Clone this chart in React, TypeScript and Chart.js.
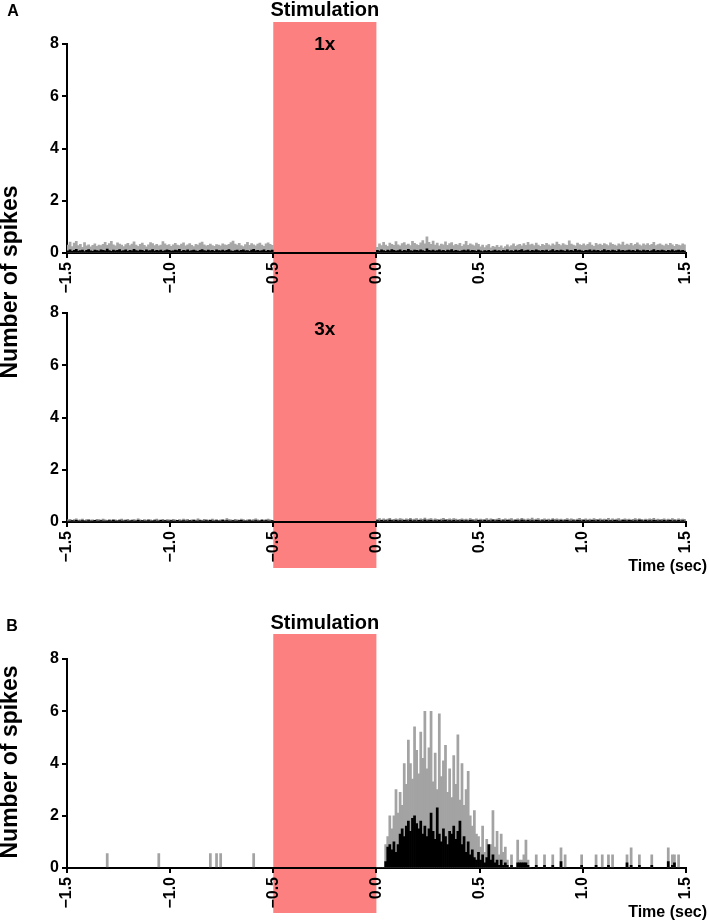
import React, { useEffect, useRef } from 'react';
import { Chart, registerables } from 'chart.js';

Chart.register(...registerables);
Chart.defaults.font.family = '"Liberation Sans", Arial, sans-serif';

// ---------- data ----------
const BIN = 0.01; // histogram bin width (s)
const A_PRE_START = -1.5;
const A_POST_START = 0;
const B_POST_START = 0;
const X_MIN = -1.5;
const X_MAX = 1.5;
const X_STEP = 0.5;
const Y_MIN = 0;
const Y_MAX = 8;
const Y_STEP = 2;
const STIM_FROM = -0.5;
const STIM_TO = 0;

// Panel A, 1x : grey / black histogram heights
const a1PreGray = [
  0.30,0.42,0.25,0.38,0.45,0.28,0.33,0.22,0.40,0.27,
  0.31,0.24,0.29,0.35,0.26,0.30,0.28,0.33,0.41,0.29,
  0.36,0.45,0.31,0.27,0.39,0.34,0.30,0.25,0.32,0.37,
  0.28,0.34,0.43,0.30,0.26,0.33,0.38,0.29,0.24,0.31,
  0.40,0.36,0.28,0.33,0.27,0.30,0.44,0.35,0.29,0.32,
  0.26,0.31,0.37,0.30,0.28,0.34,0.39,0.27,0.31,0.36,
  0.29,0.25,0.33,0.30,0.38,0.42,0.31,0.27,0.29,0.34,
  0.28,0.26,0.32,0.30,0.27,0.35,0.31,0.29,0.33,0.40,
  0.46,0.34,0.30,0.37,0.28,0.25,0.32,0.41,0.29,0.36,
  0.31,0.27,0.34,0.38,0.30,0.26,0.35,0.39,0.33,0.29,
];
const a1PostGray = [
  0.22,0.35,0.28,0.41,0.30,0.26,0.38,0.33,0.29,0.44,
  0.31,0.27,0.36,0.40,0.30,0.34,0.28,0.45,0.37,0.32,
  0.29,0.39,0.48,0.35,0.62,0.41,0.33,0.46,0.30,0.38,
  0.27,0.34,0.31,0.43,0.29,0.36,0.40,0.28,0.33,0.30,
  0.37,0.26,0.32,0.45,0.29,0.35,0.31,0.27,0.38,0.33,
  0.24,0.30,0.21,0.28,0.33,0.20,0.26,0.23,0.29,0.22,
  0.27,0.19,0.25,0.31,0.24,0.28,0.35,0.26,0.30,0.33,
  0.27,0.36,0.29,0.41,0.31,0.34,0.28,0.38,0.30,0.26,
  0.33,0.29,0.37,0.31,0.27,0.35,0.30,0.42,0.33,0.28,
  0.36,0.31,0.29,0.47,0.34,0.30,0.27,0.38,0.32,0.29,
  0.35,0.28,0.33,0.40,0.30,0.26,0.37,0.31,0.34,0.29,
  0.36,0.32,0.28,0.39,0.33,0.30,0.27,0.35,0.31,0.42,
  0.29,0.34,0.30,0.37,0.28,0.33,0.39,0.31,0.27,0.35,
  0.30,0.36,0.29,0.33,0.41,0.28,0.32,0.35,0.30,0.27,
  0.34,0.29,0.37,0.31,0.26,0.33,0.30,0.28,0.35,0.31,
];
const a1PreBlack = [
  0.08,0.12,0.06,0.10,0.14,0.07,0.09,0.11,0.05,0.10,
  0.13,0.08,0.06,0.11,0.09,0.07,0.12,0.10,0.08,0.15,
  0.09,0.06,0.11,0.08,0.10,0.13,0.07,0.09,0.12,0.06,
  0.10,0.08,0.14,0.09,0.07,0.11,0.10,0.06,0.12,0.08,
  0.09,0.13,0.07,0.10,0.08,0.11,0.06,0.09,0.12,0.10,
  0.07,0.08,0.11,0.09,0.14,0.06,0.10,0.08,0.12,0.07,
  0.09,0.11,0.08,0.06,0.10,0.13,0.09,0.07,0.11,0.08,
  0.10,0.06,0.12,0.09,0.08,0.11,0.07,0.10,0.13,0.08,
  0.06,0.09,0.11,0.07,0.10,0.12,0.08,0.09,0.06,0.11,
  0.14,0.08,0.10,0.07,0.09,0.12,0.06,0.10,0.08,0.11,
];
const a1PostBlack = [
  0.10,0.07,0.12,0.09,0.06,0.11,0.08,0.13,0.10,0.07,
  0.09,0.12,0.06,0.10,0.08,0.14,0.09,0.07,0.11,0.10,
  0.08,0.12,0.09,0.06,0.16,0.10,0.08,0.11,0.07,0.09,
  0.12,0.08,0.10,0.06,0.11,0.09,0.13,0.07,0.10,0.08,
  0.06,0.09,0.11,0.08,0.12,0.07,0.10,0.09,0.06,0.11,
  0.08,0.05,0.09,0.07,0.10,0.06,0.08,0.11,0.07,0.09,
  0.06,0.10,0.08,0.12,0.07,0.09,0.06,0.11,0.08,0.10,
  0.13,0.07,0.09,0.11,0.06,0.10,0.08,0.12,0.09,0.07,
  0.10,0.08,0.11,0.06,0.09,0.13,0.07,0.10,0.08,0.11,
  0.09,0.06,0.12,0.08,0.10,0.07,0.14,0.09,0.11,0.08,
  0.06,0.10,0.09,0.12,0.07,0.11,0.08,0.10,0.06,0.09,
  0.13,0.08,0.10,0.07,0.11,0.09,0.06,0.12,0.08,0.10,
  0.07,0.09,0.11,0.08,0.10,0.06,0.12,0.09,0.07,0.11,
  0.08,0.10,0.06,0.09,0.13,0.07,0.10,0.08,0.11,0.09,
  0.06,0.10,0.08,0.12,0.07,0.09,0.11,0.08,0.10,0.07,
];

// Panel A, 3x
const a2PreGray = [
  0.08,0.10,0.06,0.09,0.12,0.07,0.08,0.11,0.06,0.09,
  0.10,0.07,0.08,0.06,0.10,0.09,0.07,0.11,0.08,0.06,
  0.09,0.07,0.10,0.08,0.06,0.09,0.11,0.07,0.08,0.10,
  0.06,0.08,0.09,0.07,0.12,0.08,0.06,0.09,0.07,0.10,
  0.08,0.06,0.09,0.11,0.07,0.08,0.10,0.06,0.09,0.08,
  0.07,0.10,0.08,0.06,0.09,0.07,0.11,0.08,0.10,0.06,
  0.08,0.09,0.07,0.12,0.08,0.06,0.10,0.09,0.07,0.08,
  0.11,0.07,0.09,0.06,0.08,0.10,0.07,0.13,0.09,0.08,
  0.06,0.10,0.08,0.07,0.11,0.09,0.06,0.08,0.10,0.07,
  0.09,0.12,0.08,0.06,0.10,0.07,0.09,0.11,0.08,0.06,
];
const a2PostGray = [
  0.10,0.13,0.08,0.12,0.09,0.11,0.14,0.08,0.10,0.12,
  0.09,0.13,0.11,0.08,0.12,0.10,0.14,0.09,0.11,0.13,
  0.08,0.12,0.10,0.15,0.09,0.11,0.13,0.08,0.12,0.10,
  0.09,0.11,0.14,0.08,0.10,0.12,0.09,0.13,0.11,0.08,
  0.10,0.12,0.09,0.11,0.08,0.13,0.10,0.09,0.12,0.08,
  0.11,0.09,0.10,0.13,0.08,0.12,0.10,0.09,0.11,0.14,
  0.08,0.10,0.12,0.09,0.11,0.13,0.08,0.10,0.12,0.09,
  0.14,0.11,0.08,0.12,0.10,0.15,0.09,0.11,0.13,0.08,
  0.10,0.12,0.09,0.11,0.08,0.13,0.10,0.12,0.09,0.11,
  0.08,0.10,0.13,0.09,0.12,0.10,0.08,0.11,0.14,0.09,
  0.10,0.12,0.08,0.11,0.09,0.13,0.10,0.08,0.12,0.09,
  0.11,0.10,0.14,0.08,0.12,0.09,0.11,0.13,0.08,0.10,
  0.12,0.09,0.11,0.08,0.10,0.13,0.09,0.12,0.10,0.08,
  0.11,0.09,0.12,0.10,0.14,0.08,0.11,0.09,0.10,0.12,
  0.08,0.11,0.09,0.13,0.10,0.08,0.12,0.09,0.11,0.10,
];
const a2PreBlack = [
  0.04,0.03,0.05,0.04,0.06,0.03,0.04,0.05,0.03,0.04,
  0.05,0.04,0.03,0.06,0.04,0.03,0.05,0.04,0.04,0.03,
  0.05,0.04,0.06,0.03,0.04,0.05,0.03,0.04,0.05,0.04,
  0.03,0.05,0.04,0.03,0.06,0.04,0.05,0.03,0.04,0.05,
  0.04,0.03,0.05,0.04,0.03,0.06,0.04,0.05,0.03,0.04,
  0.05,0.03,0.04,0.06,0.04,0.03,0.05,0.04,0.03,0.05,
  0.04,0.06,0.03,0.04,0.05,0.04,0.03,0.05,0.04,0.06,
  0.03,0.04,0.05,0.03,0.04,0.06,0.04,0.05,0.03,0.04,
  0.05,0.04,0.03,0.05,0.06,0.04,0.03,0.04,0.05,0.03,
  0.04,0.05,0.04,0.03,0.06,0.04,0.05,0.03,0.04,0.05,
];
const a2PostBlack = [
  0.05,0.04,0.06,0.03,0.05,0.04,0.07,0.05,0.04,0.06,
  0.03,0.05,0.04,0.06,0.05,0.04,0.07,0.03,0.05,0.04,
  0.06,0.05,0.04,0.07,0.03,0.05,0.06,0.04,0.05,0.03,
  0.06,0.04,0.05,0.07,0.04,0.05,0.03,0.06,0.04,0.05,
  0.04,0.06,0.03,0.05,0.04,0.06,0.05,0.03,0.04,0.06,
  0.05,0.04,0.06,0.03,0.05,0.04,0.07,0.04,0.05,0.06,
  0.03,0.05,0.04,0.06,0.05,0.04,0.03,0.06,0.05,0.04,
  0.07,0.05,0.04,0.06,0.03,0.05,0.04,0.06,0.05,0.04,
  0.05,0.03,0.06,0.04,0.05,0.07,0.04,0.05,0.03,0.06,
  0.04,0.05,0.06,0.04,0.03,0.05,0.04,0.06,0.05,0.04,
  0.06,0.04,0.05,0.03,0.06,0.05,0.04,0.07,0.04,0.05,
  0.03,0.06,0.04,0.05,0.04,0.06,0.05,0.03,0.04,0.06,
  0.05,0.04,0.06,0.05,0.03,0.05,0.04,0.07,0.05,0.04,
  0.06,0.03,0.05,0.04,0.06,0.05,0.04,0.05,0.03,0.06,
  0.04,0.05,0.06,0.04,0.05,0.03,0.06,0.04,0.05,0.04,
];

// Panel B: response 0.00-0.75 s, then isolated spikes
const bPostGray = [
  0,0,0,0,0.9,1.2,2.0,1.5,2.0,3.0,
  2.1,2.9,2.4,4.0,3.2,4.9,4.0,3.4,5.4,4.5,
  3.6,5.2,4.2,6.0,3.8,4.6,6.0,3.3,4.4,3.0,
  5.9,3.5,4.1,4.7,2.9,3.8,2.7,4.3,3.2,5.1,
  2.6,4.0,2.4,3.0,3.7,2.0,1.6,2.2,1.3,1.2,
  0.8,1.6,0.6,1.1,0.7,0.9,2.2,0.8,1.4,0.5,
  1.3,0.6,0.8,0.3,0,0.5,0,0,1.07,0.3,
  0.3,0.5,1.07,0.3,0,
];
const bPostBlack = [
  0,0,0,0,0.25,0.8,0.9,0.7,1.0,0.6,
  0.9,1.3,1.5,1.2,1.6,1.8,1.4,1.9,2.0,1.7,
  1.5,1.8,1.3,1.6,1.2,1.5,2.1,1.4,1.1,2.3,
  1.3,1.0,1.5,1.2,0.9,1.4,1.3,1.6,1.1,1.4,
  1.8,0.9,1.2,0.6,1.0,0.5,0.7,0.4,0.3,0.6,
  0.3,0.5,0.2,0.4,0.9,0.3,0.5,0.2,0.3,0.1,
  0.3,0.1,0.2,0.1,0,0.1,0,0,0.2,0.2,
  0.2,0.2,0.2,0.1,0,
];
const bSpikeTimes = [
  -1.305,-1.055,-0.805,-0.775,-0.755,-0.595,
  0.775,0.815,0.855,0.895,0.915,0.995,1.065,1.095,1.125,1.145,
  1.215,1.235,1.275,1.335,1.415,1.435,1.445,1.465,
];
const bSpikeGray = [
  0.55,0.55,0.55,0.55,0.55,0.55,
  0.5,0.5,0.5,0.77,0.5,0.5,0.5,0.5,0.5,0.5,
  0.5,0.77,0.5,0.5,0.77,0.5,0.5,0.5,
];
const bSpikeBlack = [
  0,0,0,0,0,0,
  0.1,0.1,0.1,0.25,0,0.1,0.1,0,0.1,0,
  0.2,0.1,0.1,0.1,0.25,0.1,0.2,0,
];

// ---------- helpers ----------
type Pt = { x: number; y: number };
const binned = (start: number, values: number[]): Pt[] =>
  values.map((v, i) => ({ x: start + (i + 0.5) * BIN, y: v }));
const atTimes = (times: number[], values: number[]): Pt[] =>
  times.map((t, i) => ({ x: t, y: values[i] }));

const FONT = '"Liberation Sans", Arial, sans-serif';
const BAND_COLOR = '#FD8080';
const PLOT_LEFT = 67;
const PLOT_RIGHT = 695;

type TextItem = {
  text: string;
  x?: number;
  atValue?: number;
  y: number;
  size: number;
  align?: CanvasTextAlign;
  rotate?: boolean;
};
type Overlay = { bandTop: number; bandBottom: number; texts: TextItem[] };

const makeOverlay = (cfg: Overlay) => ({
  id: 'overlay',
  beforeDraw(chart: any) {
    if (cfg.bandBottom <= cfg.bandTop) return;
    const { ctx } = chart;
    const xs = chart.scales.x;
    const x0 = xs.getPixelForValue(STIM_FROM);
    const x1 = xs.getPixelForValue(STIM_TO);
    ctx.save();
    ctx.fillStyle = BAND_COLOR;
    ctx.fillRect(x0, cfg.bandTop, x1 - x0, cfg.bandBottom - cfg.bandTop);
    ctx.restore();
  },
  afterDraw(chart: any) {
    const { ctx } = chart;
    const xs = chart.scales.x;
    for (const t of cfg.texts) {
      const x = t.atValue !== undefined ? xs.getPixelForValue(t.atValue) : (t.x as number);
      ctx.save();
      ctx.fillStyle = '#000';
      ctx.font = `bold ${t.size}px ${FONT}`;
      ctx.textAlign = t.align || 'center';
      ctx.textBaseline = 'middle';
      ctx.translate(x, t.y);
      if (t.rotate) ctx.rotate(-Math.PI / 2);
      ctx.fillText(t.text, 0, 0);
      ctx.restore();
    }
  },
});

const fmtX = (v: number | string) => {
  const n = Number(v);
  return (n < 0 ? '\u2212' : '') + Math.abs(n).toFixed(1);
};

function makeConfig(
  gray: Pt[],
  black: Pt[],
  grayColor: string,
  padTop: number,
  xHeight: number,
  overlay: Overlay
): any {
  const axisGrid = {
    display: true,
    drawOnChartArea: false,
    drawTicks: true,
    tickLength: 5,
    color: '#000',
    lineWidth: 2,
    offset: false,
  };
  const tickFont = { size: 16, weight: 'bold' as const, family: FONT };
  return {
    type: 'bar',
    data: {
      datasets: [
        {
          label: 'black',
          data: black,
          backgroundColor: '#000',
          borderWidth: 0,
          grouped: false,
          order: 0,
          barPercentage: 1,
          categoryPercentage: 1,
        },
        {
          label: 'gray',
          data: gray,
          backgroundColor: grayColor,
          borderWidth: 0,
          grouped: false,
          order: 1,
          barPercentage: 1,
          categoryPercentage: 1,
        },
      ],
    },
    options: {
      animation: false,
      responsive: false,
      devicePixelRatio: 1,
      events: [],
      layout: { padding: { top: padTop, right: 709 - PLOT_RIGHT, left: 0, bottom: 0 } },
      plugins: { legend: { display: false }, tooltip: { enabled: false } },
      scales: {
        x: {
          type: 'linear',
          min: X_MIN,
          max: X_MAX,
          offset: false,
          grid: axisGrid,
          border: { display: true, color: '#000', width: 2 },
          ticks: {
            stepSize: X_STEP,
            autoSkip: false,
            maxRotation: 90,
            minRotation: 90,
            padding: 4,
            color: '#000',
            font: tickFont,
            callback: fmtX,
          },
          afterFit: (s: any) => {
            s.height = xHeight;
          },
        },
        y: {
          type: 'linear',
          min: Y_MIN,
          max: Y_MAX,
          grid: axisGrid,
          border: { display: true, color: '#000', width: 2 },
          ticks: {
            stepSize: Y_STEP,
            padding: 3,
            color: '#000',
            font: tickFont,
          },
          afterFit: (s: any) => {
            s.width = PLOT_LEFT;
          },
        },
      },
    },
    plugins: [makeOverlay(overlay)],
  };
}

// nudge layout padding so the plot area lands exactly on the target box
function fitArea(chart: any, top: number) {
  const ca = chart.chartArea;
  const pad = chart.config.options.layout.padding;
  const dr = ca.right - PLOT_RIGHT;
  const dt = ca.top - top;
  if (Math.abs(dr) > 0.5 || Math.abs(dt) > 0.5) {
    pad.right += dr;
    pad.top -= dt;
    chart.update();
  }
}

export default function App() {
  const refA1 = useRef<HTMLCanvasElement>(null);
  const refA2 = useRef<HTMLCanvasElement>(null);
  const refB = useRef<HTMLCanvasElement>(null);

  useEffect(() => {
    const stimMid = (STIM_FROM + STIM_TO) / 2;

    const a1 = new Chart(
      refA1.current as HTMLCanvasElement,
      makeConfig(
        [...binned(A_PRE_START, a1PreGray), ...binned(A_POST_START, a1PostGray)],
        [...binned(A_PRE_START, a1PreBlack), ...binned(A_POST_START, a1PostBlack)],
        '#A8A8A8',
        44,
        600 - 253,
        {
          bandTop: 22,
          bandBottom: 568,
          texts: [
            { text: 'A', x: 13, y: 12, size: 16 },
            { text: 'Stimulation', atValue: stimMid, y: 10, size: 20 },
            { text: '1x', atValue: stimMid, y: 45, size: 19 },
            { text: 'Number of spikes', x: 11, y: 282, size: 23, rotate: true },
          ],
        }
      )
    );
    const a2 = new Chart(
      refA2.current as HTMLCanvasElement,
      makeConfig(
        [...binned(A_PRE_START, a2PreGray), ...binned(A_POST_START, a2PostGray)],
        [...binned(A_PRE_START, a2PreBlack), ...binned(A_POST_START, a2PostBlack)],
        '#8E8E8E',
        13,
        300 - 222,
        {
          bandTop: 0,
          bandBottom: 0,
          texts: [
            { text: '3x', atValue: stimMid, y: 30, size: 19 },
            { text: 'Time (sec)', x: 707, y: 267, size: 16, align: 'right' },
          ],
        }
      )
    );
    const b = new Chart(
      refB.current as HTMLCanvasElement,
      makeConfig(
        [...binned(B_POST_START, bPostGray), ...atTimes(bSpikeTimes, bSpikeGray)],
        [...binned(B_POST_START, bPostBlack), ...atTimes(bSpikeTimes, bSpikeBlack)],
        '#A3A3A3',
        59,
        324 - 268,
        {
          bandTop: 34,
          bandBottom: 313,
          texts: [
            { text: 'B', x: 12, y: 27, size: 16 },
            { text: 'Stimulation', atValue: stimMid, y: 23, size: 20 },
            { text: 'Time (sec)', x: 707, y: 313, size: 16, align: 'right' },
            { text: 'Number of spikes', x: 11, y: 162, size: 23, rotate: true },
          ],
        }
      )
    );
    fitArea(a1, 44);
    fitArea(a2, 13);
    fitArea(b, 59);
    return () => {
      a1.destroy();
      a2.destroy();
      b.destroy();
    };
  }, []);

  return (
    <div style={{ position: 'absolute', left: 0, top: 0, width: 709, height: 924, background: '#fff' }}>
      <canvas ref={refA1} width={709} height={600} style={{ position: 'absolute', left: 0, top: 0 }} />
      <canvas ref={refA2} width={709} height={300} style={{ position: 'absolute', left: 0, top: 300 }} />
      <canvas ref={refB} width={709} height={324} style={{ position: 'absolute', left: 0, top: 600 }} />
    </div>
  );
}
